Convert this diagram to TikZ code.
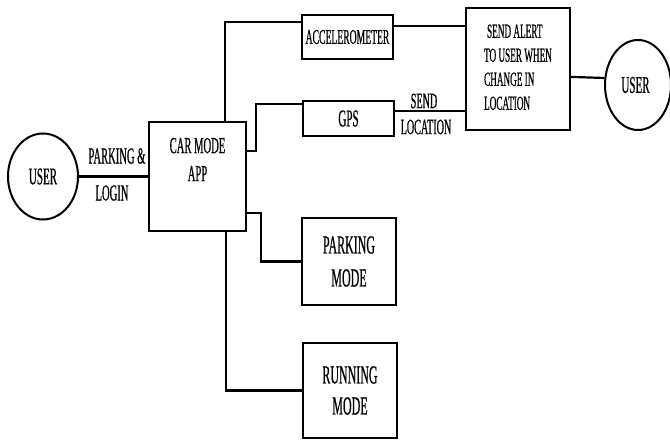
\documentclass[tikz,border=0pt]{standalone}
\usepackage{fontspec}
\setmainfont{Liberation Serif}[FakeStretch=0.46,FakeBold=0.5]
\usetikzlibrary{calc,shapes.geometric}
\tikzset{
  blk/.style={draw, line width=2.2pt, inner sep=0pt, align=center},
  usr/.style={draw, ellipse, line width=2pt, inner sep=0pt, minimum width=70pt, minimum height=86pt},
  lbl/.style={inner sep=0pt, align=center},
  wire/.style={line width=2.2pt}
}
\begin{document}
\begin{tikzpicture}[x=1pt,y=-1pt]
\useasboundingbox (0,0) rectangle (670,441);
% nodes
\node[usr, font=\fontsize{24}{28}\selectfont] (userL) at (43,176.5) {USER};
\node[blk, minimum width=97pt, minimum height=109pt, font=\fontsize{23}{28}\selectfont] (app) at (197.5,176.5)
  {CAR MODE\\APP\\[6pt]};
\node[blk, minimum width=91pt, minimum height=44pt, font=\fontsize{21}{24}\selectfont] (acc) at (347.5,37)
  {ACCELEROMETER};
\node[blk, minimum width=91pt, minimum height=35pt, font=\fontsize{24}{28}\selectfont] (gps) at (348.5,118.5)
  {GPS};
\node[blk, minimum width=104pt, minimum height=122pt, font=\fontsize{20}{24}\selectfont] (alert) at (518,69)
  {\begin{tabular}{@{}l@{}}\hspace{3pt}SEND ALERT\\TO USER WHEN\\CHANGE IN\\LOCATION\end{tabular}};
\node[usr, minimum width=66pt, minimum height=90pt, font=\fontsize{24}{28}\selectfont] (userR) at (638,85) {\hspace*{-5pt}USER};
\node[blk, minimum width=94pt, minimum height=87pt, font=\fontsize{26}{33}\selectfont] (park) at (349,261.5)
  {PARKING\\MODE};
\node[blk, minimum width=94pt, minimum height=95pt, font=\fontsize{26}{31}\selectfont] (run) at (350,390.5)
  {RUNNING\\MODE};
% labels
\node[lbl, font=\fontsize{23}{26}\selectfont] (lpark) at (117,156) {PARKING \&};
\node[lbl, font=\fontsize{23}{26}\selectfont] (llogin) at (112,193) {LOGIN};
\node[lbl, font=\fontsize{22}{26}\selectfont] (lsend) at (424,101) {SEND};
\node[lbl, font=\fontsize{22}{26}\selectfont] (lloc) at (426,127) {LOCATION};
% connectors
\draw[wire] (userL.east) -- (app.west |- userL.east);
\coordinate (a1) at ($(app.north)+(27.5,0)$);
\coordinate (a2) at ($(acc.north west)+(0,8)$);
\draw[wire] (a1) |- (a2);
\coordinate (a3) at ($(acc.north east)+(0,12)$);
\draw[wire] (a3) -- (a3 -| alert.west);
\coordinate (g0) at ($(app.north east)+(0,30)$);
\coordinate (g1) at ($(gps.north west)+(0,4)$);
\coordinate (g2) at ($(gps.north west)+(-46,4)$);
\draw[wire] (g0) -| (g2) -- (g1);
\coordinate (g3) at ($(gps.north east)+(0,11)$);
\draw[wire] (g3) -- (g3 -| alert.west);
\coordinate (u1) at ($(alert.north east)+(0,70)$);
\coordinate (u2) at ($(userR.west)+(0.6,-7)$);
\draw[wire] (u1) -- (u2);
\coordinate (p0) at ($(app.south east)+(0,-19)$);
\coordinate (p1) at ($(park.west)+(-40,0)$);
\draw[wire] (p0) -| (p1) -- (park.west);
\coordinate (r0) at ($(app.south)+(28.5,0)$);
\draw[wire] (r0) |- (run.west);
\end{tikzpicture}
\end{document}
